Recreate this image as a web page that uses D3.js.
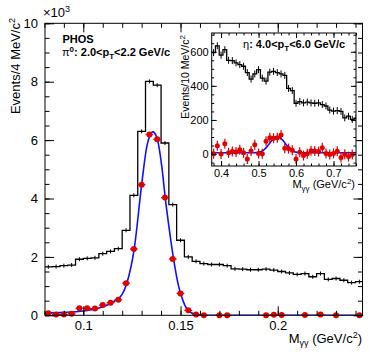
<!DOCTYPE html>
<html>
<head>
<meta charset="utf-8">
<script src="https://cdn.jsdelivr.net/npm/d3@7"></script>
<style>
  body { margin: 0; background: #fff; }
  svg text { font-family: "Liberation Sans", Arial, Helvetica, sans-serif; fill: #000; }
</style>
</head>
<body>
<div id="chart"></div>
<script>
// pi0 panel: 4 MeV bins starting at 0.080 GeV/c2, counts in units of 10^3
var pi0BinStart = 0.080, pi0BinWidth = 0.004;
var pi0Total = [1.66,1.67,1.70,1.72,1.92,1.95,1.97,2.11,2.19,2.28,
                2.91,4.11,6.30,8.01,7.88,5.90,3.79,2.57,2.00,1.85,
                1.77,1.74,1.74,1.70,1.59,1.58,1.56,1.56,1.58,1.55,
                1.50,1.45,1.40,1.43,1.32,1.43,1.23,1.26,1.20,1.12,
                1.15];
var pi0Signal = [0.07,0.03,0.03,0.05,0.24,0.24,0.23,0.35,0.43,0.53,
                 1.10,2.27,4.47,6.19,6.03,4.03,1.93,0.75,0.17,0.03,
                 0.005,-0.03,0.0,0.0,-0.03,-0.03,-0.03,-0.03,0.0,0.02,
                 0.01,-0.03,-0.03,0.01,-0.03,0.03,-0.03,0.0,-0.03,-0.03,
                 0.0];
var pi0FitMass  = [0.0803,0.090,0.100,0.1086,0.1154,0.1198,0.1224,0.1262,0.1300,0.1326,0.1343,0.1357,
                   0.1378,0.1404,0.1421,0.1443,0.1464,0.1490,0.1515,0.1541,0.158,0.165,0.2436];
var pi0FitValue = [0.08,0.10,0.15,0.26,0.46,0.70,1.10,2.28,4.47,5.76,6.16,6.28,
                   6.10,5.08,4.05,2.91,1.94,1.00,0.46,0.15,0.03,0.0,0.0];

// eta inset: 10 MeV bins starting at 0.375 GeV/c2
var etaBinStart = 0.375, etaBinWidth = 0.01;
var etaTotal = [595,635,580,612,550,548,535,525,515,478,
                440,470,495,445,428,480,485,478,470,462,
                385,372,298,308,300,305,300,298,300,290,
                282,258,252,255,250,212,222,203,210];
var etaSignal = [2,49,0,60,7,15,12,25,7,-29,
                 18,54,3,2,75,96,93,96,112,34,
                 32,22,-29,10,-9,2,20,18,15,37,
                 3,-2,4,16,-20,-1,-15,-2];
var etaFitMass  = [0.375,0.49,0.50,0.51,0.52,0.53,0.54,0.548,0.556,0.565,0.575,0.585,0.595,0.61,0.76];
var etaFitValue = [8,8,10,18,36,64,90,100,97,80,52,26,13,8,8];

// tick labels
var pi0XTicks = [0.1, 0.15, 0.2];
var pi0YTicks = [0, 2, 4, 6, 8, 10];
var etaXTicks = [0.4, 0.5, 0.6, 0.7];
var etaYTicks = [0, 200, 400, 600];

var svg = d3.select("#chart")
    .append("svg")
    .attr("width", 374)
    .attr("height", 356);

var x = d3.scaleLinear().domain([0.0803, 0.2436]).range([45, 362.5]);
var y = d3.scaleLinear().domain([0, 10]).range([315.3, 23.3]);
var ix = d3.scaleLinear().domain([0.375, 0.76]).range([211.7, 356]);
var iy = d3.scaleLinear().domain([-70, 710]).range([166, 33]);

var defs = svg.append("defs");
function addClip(id, xs, ys) {
  defs.append("clipPath").attr("id", id).append("rect")
    .attr("x", xs.range()[0]).attr("y", ys.range()[1])
    .attr("width", xs.range()[1] - xs.range()[0])
    .attr("height", ys.range()[0] - ys.range()[1]);
}
addClip("clipMain", x, y);
addClip("clipInset", ix, iy);

// ROOT-like frame with inward ticks on all four sides
function drawFrame(g, xs, ys, xMaj, xMin, yMaj, yMin, tMaj, tMin, fs, xFmt, yFmt, xPad, yPad) {
  var x0 = xs.range()[0], x1 = xs.range()[1], y0 = ys.range()[0], y1 = ys.range()[1];
  function strip(a) { a.select(".domain").remove(); a.selectAll("line").attr("stroke", "#000"); }
  // minor
  g.append("g").attr("transform", "translate(0," + y0 + ")")
    .call(d3.axisBottom(xs).tickValues(xMin).tickSize(-tMin).tickFormat("")).call(strip);
  g.append("g").attr("transform", "translate(0," + y1 + ")")
    .call(d3.axisTop(xs).tickValues(xMin).tickSize(-tMin).tickFormat("")).call(strip);
  g.append("g").attr("transform", "translate(" + x0 + ",0)")
    .call(d3.axisLeft(ys).tickValues(yMin).tickSize(-tMin).tickFormat("")).call(strip);
  g.append("g").attr("transform", "translate(" + x1 + ",0)")
    .call(d3.axisRight(ys).tickValues(yMin).tickSize(-tMin).tickFormat("")).call(strip);
  // major with labels
  var bx = g.append("g").attr("transform", "translate(0," + y0 + ")")
    .call(d3.axisBottom(xs).tickValues(xMaj).tickSize(-tMaj).tickPadding(xPad).tickFormat(xFmt)).call(strip);
  g.append("g").attr("transform", "translate(0," + y1 + ")")
    .call(d3.axisTop(xs).tickValues(xMaj).tickSize(-tMaj).tickFormat("")).call(strip);
  var ly = g.append("g").attr("transform", "translate(" + x0 + ",0)")
    .call(d3.axisLeft(ys).tickValues(yMaj).tickSize(-tMaj).tickPadding(yPad).tickFormat(yFmt)).call(strip);
  g.append("g").attr("transform", "translate(" + x1 + ",0)")
    .call(d3.axisRight(ys).tickValues(yMaj).tickSize(-tMaj).tickFormat("")).call(strip);
  bx.selectAll("text").attr("font-size", fs).attr("font-family", null);
  ly.selectAll("text").attr("font-size", fs).attr("font-family", null);
  g.append("rect").attr("x", x0).attr("y", y1).attr("width", x1 - x0).attr("height", y0 - y1)
    .attr("fill", "none").attr("stroke", "#000").attr("stroke-width", 1);
}

function stepPath(xs, ys, start, w, vals) {
  var pts = vals.map(function (v, i) { return [start + i * w, v]; });
  pts.push([start + vals.length * w, vals[vals.length - 1]]);
  return d3.line().x(function (d) { return xs(d[0]); }).y(function (d) { return ys(d[1]); })
    .curve(d3.curveStepAfter)(pts);
}

function drawPanel(g, xs, ys, start, w, total, signal, fitM, fitV, tickHalf, errHalf, r, showNeg) {
  var clip = g.append("g");
  clip.append("path")
    .attr("d", stepPath(xs, ys, start, w, total))
    .attr("fill", "none").attr("stroke", "#000").attr("stroke-width", 1.3);
  clip.append("g").selectAll("line").data(total).enter().append("line")
    .attr("x1", function (d, i) { return xs(start + (i + 0.5) * w); })
    .attr("x2", function (d, i) { return xs(start + (i + 0.5) * w); })
    .attr("y1", function (d) { return ys(d) - tickHalf; })
    .attr("y2", function (d) { return ys(d) + tickHalf; })
    .attr("stroke", "#000").attr("stroke-width", 1);

  var fit = fitM.map(function (m, i) { return [m, fitV[i]]; });
  clip.append("path")
    .attr("d", d3.line().x(function (d) { return xs(d[0]); }).y(function (d) { return ys(d[1]); })
      .curve(d3.curveMonotoneX)(fit))
    .attr("fill", "none").attr("stroke", "#1010ff").attr("stroke-width", 1.6);

  var pts = signal.map(function (v, i) { return { m: start + (i + 0.5) * w, v: v }; })
    .filter(function (d) { return showNeg || d.v >= 0; });
  var red = "#e00000";
  var pg = g.append("g");
  pg.selectAll(".eh").data(pts).enter().append("line")
    .attr("x1", function (d) { return xs(d.m - w / 2); })
    .attr("x2", function (d) { return xs(d.m + w / 2); })
    .attr("y1", function (d) { return ys(d.v); })
    .attr("y2", function (d) { return ys(d.v); })
    .attr("stroke", red).attr("stroke-width", 1.2);
  pg.selectAll(".ev").data(pts).enter().append("line")
    .attr("x1", function (d) { return xs(d.m); })
    .attr("x2", function (d) { return xs(d.m); })
    .attr("y1", function (d) { return ys(d.v) - errHalf; })
    .attr("y2", function (d) { return ys(d.v) + errHalf; })
    .attr("stroke", red).attr("stroke-width", 1.2);
  pg.selectAll("circle").data(pts).enter().append("circle")
    .attr("cx", function (d) { return xs(d.m); })
    .attr("cy", function (d) { return ys(d.v); })
    .attr("r", r).attr("fill", red);
  return clip;
}

// main panel
var mainG = svg.append("g");
var mc = drawPanel(mainG, x, y, pi0BinStart, pi0BinWidth, pi0Total, pi0Signal, pi0FitMass, pi0FitValue, 2, 2, 3, false);
mc.attr("clip-path", "url(#clipMain)");
drawFrame(svg.append("g"), x, y,
  pi0XTicks, d3.range(8, 25).map(function (d) { return d / 100; }),
  pi0YTicks, d3.range(0, 21).map(function (d) { return d / 2; }),
  9, 4.5, 13, d3.format(""), d3.format("d"), 5.5, 7);

// axis titles of main panel
svg.append("text").attr("x", 43).attr("y", 17).attr("font-size", 13)
  .text("\u00d710").append("tspan").attr("font-size", 9).attr("dy", -5).text("3");

var yt = svg.append("text").attr("transform", "translate(20,18) rotate(-90)")
  .attr("text-anchor", "end").attr("font-size", 13);
yt.append("tspan").text("Events/4 MeV/c");
yt.append("tspan").attr("font-size", 9).attr("dy", -5).text("2");

var xt = svg.append("text").attr("x", 362).attr("y", 343).attr("text-anchor", "end").attr("font-size", 13);
xt.append("tspan").text("M");
xt.append("tspan").attr("font-size", 9).attr("dy", 3).text("\u03b3\u03b3");
xt.append("tspan").attr("dy", -3).text(" (GeV/c");
xt.append("tspan").attr("font-size", 9).attr("dy", -5).text("2");
xt.append("tspan").attr("dy", 5).text(")");

// labels
svg.append("text").attr("x", 62.5).attr("y", 42.7).attr("font-size", 11).attr("font-weight", "bold").text("PHOS");
var lab = svg.append("text").attr("x", 62).attr("y", 56).attr("font-size", 11).attr("font-weight", "bold");
lab.append("tspan").attr("font-weight", "normal").text("\u03c0");
lab.append("tspan").attr("font-size", 8).attr("dy", -4).text("0");
lab.append("tspan").attr("dy", 4).text(": 2.0<p");
lab.append("tspan").attr("font-size", 8).attr("dy", 3).text("T");
lab.append("tspan").attr("dy", -3).text("<2.2 GeV/c");

// inset
svg.append("rect").attr("x", 211.7).attr("y", 33).attr("width", 356 - 211.7).attr("height", 133).attr("fill", "#fff");
var insetG = svg.append("g");
var ic = drawPanel(insetG, ix, iy, etaBinStart, etaBinWidth, etaTotal, etaSignal, etaFitMass, etaFitValue, 3.5, 5, 2.5, true);
ic.attr("clip-path", "url(#clipInset)");
drawFrame(svg.append("g"), ix, iy,
  etaXTicks, d3.range(38, 77, 2).map(function (d) { return d / 100; }),
  etaYTicks, d3.range(-50, 701, 50),
  5, 2.5, 11, d3.format(""), d3.format("d"), 3.5, 3);

var iyt = svg.append("text").attr("transform", "translate(188.5,35) rotate(-90)")
  .attr("text-anchor", "end").attr("font-size", 10.5);
iyt.append("tspan").text("Events/10 MeV/c");
iyt.append("tspan").attr("font-size", 8).attr("dy", -4).text("2");

var ixt = svg.append("text").attr("x", 355).attr("y", 188).attr("text-anchor", "end").attr("font-size", 11);
ixt.append("tspan").text("M");
ixt.append("tspan").attr("font-size", 8).attr("dy", 3).text("\u03b3\u03b3");
ixt.append("tspan").attr("dy", -3).text(" (GeV/c");
ixt.append("tspan").attr("font-size", 8).attr("dy", -4).text("2");
ixt.append("tspan").attr("dy", 4).text(")");

var elab = svg.append("text").attr("x", 243).attr("y", 47.5).attr("font-size", 11).attr("font-weight", "bold");
elab.append("tspan").attr("font-weight", "normal").text("\u03b7");
elab.append("tspan").text(": 4.0<p");
elab.append("tspan").attr("font-size", 8).attr("dy", 3).text("T");
elab.append("tspan").attr("dy", -3).text("<6.0 GeV/c");
</script>
</body>
</html>
